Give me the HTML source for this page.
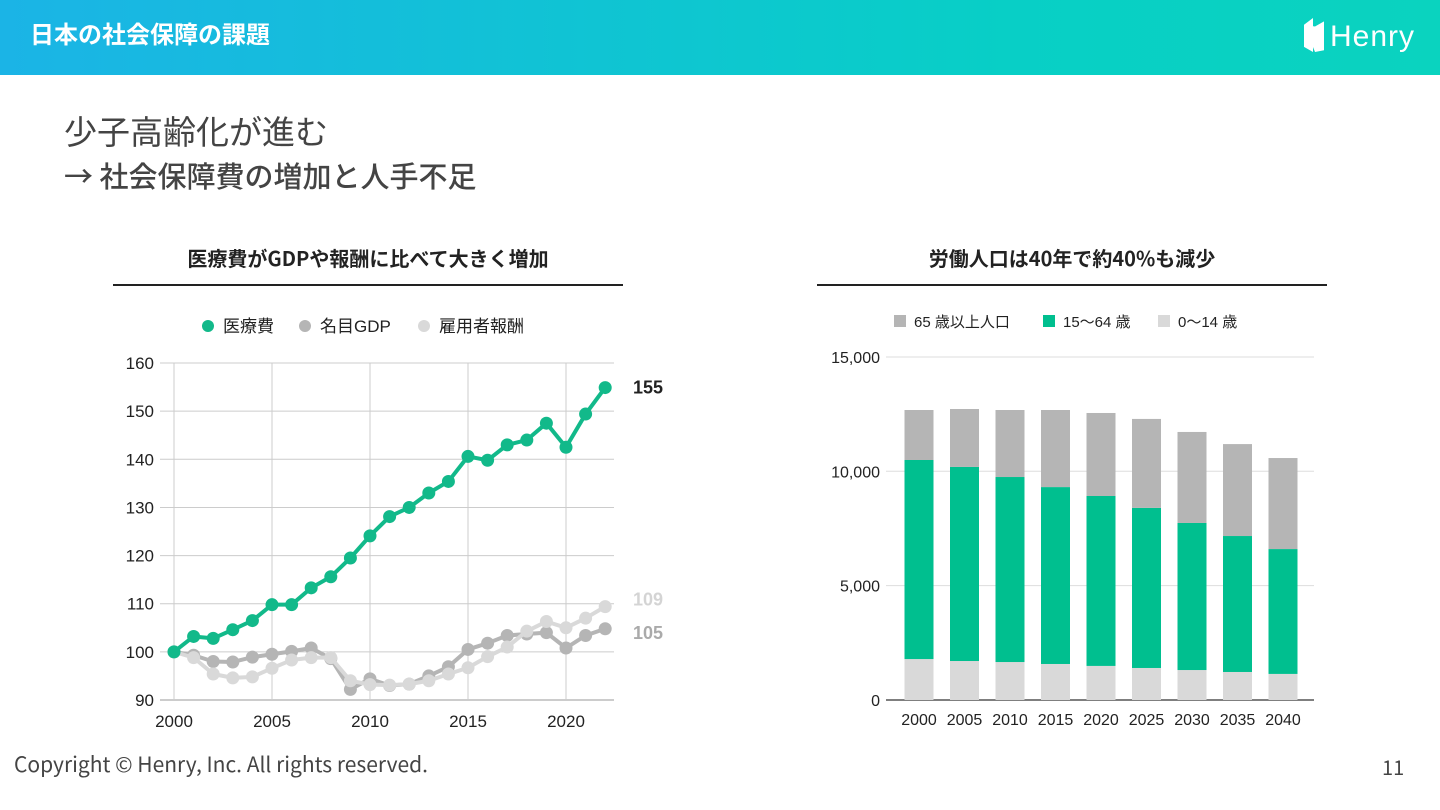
<!DOCTYPE html>
<html><head><meta charset="utf-8">
<style>
body{margin:0;width:1440px;height:810px;background:#fff;position:relative;overflow:hidden;font-family:"Liberation Sans","Noto Sans CJK JP",sans-serif;}
.hdr{position:absolute;left:0;top:0;width:1440px;height:75px;background:linear-gradient(90deg,#1bb4e6,#08cfc6 70%,#0ad3bf);}
.t{position:absolute;white-space:nowrap;}
</style></head><body>
<div class="hdr"></div>
<div class="t" style="left:30px;top:15px;color:#fff;font-size:24px;font-weight:bold;font-family:'Noto Sans CJK JP',sans-serif;">日本の社会保障の課題</div>
<div class="t" style="left:1304px;top:18px;color:#fff;font-size:30px;letter-spacing:1px;"><span style="display:inline-block;width:20px;height:34px;background:#fff;vertical-align:-6px;margin-right:6px;clip-path:polygon(0 20%,45% 0,45% 100%,0 85%,0 20%,55% 25%,100% 10%,100% 95%,55% 100%);"></span>Henry</div>
<div class="t" style="left:64px;top:106px;color:#444;font-size:33px;font-family:'Noto Sans CJK JP',sans-serif;">少子高齢化が進む</div>
<div class="t" style="left:64px;top:154px;color:#444;font-size:29px;font-family:'Noto Sans CJK JP',sans-serif;font-weight:500;">→ 社会保障費の増加と人手不足</div>
<div class="t" style="left:113px;width:510px;text-align:center;top:243px;font-size:20px;font-weight:bold;color:#222;font-family:'Noto Sans CJK JP',sans-serif;">医療費がGDPや報酬に比べて大きく増加</div>
<div style="position:absolute;left:113px;top:284px;width:510px;height:2px;background:#222;"></div>
<div class="t" style="left:817px;width:510px;text-align:center;top:243px;font-size:20px;font-weight:bold;color:#222;font-family:'Noto Sans CJK JP',sans-serif;">労働人口は40年で約40%も減少</div>
<div style="position:absolute;left:817px;top:284px;width:510px;height:2px;background:#222;"></div>
<div class="t" style="left:14px;top:749px;font-size:21px;color:#444;font-family:'Noto Sans CJK JP',sans-serif;">Copyright © Henry, Inc. All rights reserved.</div>
<div class="t" style="left:1382px;top:752px;font-size:20px;color:#444;font-family:'Noto Sans CJK JP',sans-serif;">11</div>
<svg id="c1" width="1440" height="810" style="position:absolute;left:0;top:0"></svg>
<script>
const years=[2000,2001,2002,2003,2004,2005,2006,2007,2008,2009,2010,2011,2012,2013,2014,2015,2016,2017,2018,2019,2020,2021,2022];
const medical=[100,103.2,102.8,104.6,106.5,109.8,109.8,113.3,115.6,119.5,124.1,128.1,130.0,133.0,135.4,140.6,139.8,143.0,144.0,147.5,142.5,149.4,154.9];
const gdp=[100,99.3,98.0,97.9,98.9,99.5,100.1,100.8,98.6,92.2,94.4,93.0,93.3,95.0,96.9,100.5,101.8,103.4,103.7,104.0,100.8,103.4,104.8];
const wages=[100,98.8,95.4,94.6,94.8,96.6,98.3,98.8,98.8,94.0,93.2,93.1,93.3,94.0,95.4,96.7,99.0,101.0,104.3,106.3,105.0,107.0,109.4];
const yTicks=[90,100,110,120,130,140,150,160];
const xTicks=[2000,2005,2010,2015,2020];
const barCats=['2000','2005','2010','2015','2020','2025','2030','2035','2040'];
const young=[1790,1705,1660,1575,1490,1400,1310,1225,1140];
const working=[8704,8485,8090,7735,7430,7000,6430,5945,5460];
const elderly=[2186,2534,2930,3370,3630,3890,3980,4020,3980];
const barTicks=[0,5000,10000,15000];
const NS='http://www.w3.org/2000/svg';
const svg=document.getElementById('c1');
function el(t,a,txt){const e=document.createElementNS(NS,t);for(const k in a)e.setAttribute(k,a[k]);if(txt!=null)e.textContent=txt;svg.appendChild(e);return e;}
const X=y=>174+(y-2000)*19.6, Y=v=>700-(v-90)*4.814;
for(const t of yTicks){const g=el('line',{x1:160,x2:614,y1:Y(t),y2:Y(t),stroke:t==90?'#999':'#ccc','stroke-width':1});

const l=el('text',{x:154,y:Y(t)+6,'text-anchor':'end','font-size':17,fill:'#222'},t);
}
for(const t of xTicks){const g=el('line',{x1:X(t),x2:X(t),y1:Y(160),y2:Y(90),stroke:'#ccc'});

const l=el('text',{x:X(t),y:727,'text-anchor':'middle','font-size':17,fill:'#222'},t);
}
function series(vals,col,name){const p=el('polyline',{points:vals.map((v,i)=>X(years[i])+','+Y(v)).join(' '),fill:'none',stroke:col,'stroke-width':4,'stroke-linejoin':'round'});

vals.forEach((v,i)=>{const c=el('circle',{cx:X(years[i]),cy:Y(v),r:6.5,fill:col});
});}
series(gdp,'#b5b5b5','gdp');series(wages,'#d9d9d9','wages');series(medical,'#12b98a','medical');
const e1=el('text',{x:633,y:Y(medical[22])+6,'font-size':18,'font-weight':'bold',fill:'#222'},Math.round(medical[22]));

const e2=el('text',{x:633,y:Y(wages[22])-1,'font-size':18,'font-weight':'bold',fill:'#d4d4d4'},Math.floor(wages[22]));

const e3=el('text',{x:633,y:Y(gdp[22])+10,'font-size':18,'font-weight':'bold',fill:'#aaa'},Math.round(gdp[22]));

[['医療費','#12b98a',208],['名目GDP','#b5b5b5',305],['雇用者報酬','#d9d9d9',424]].forEach(([n,c,x])=>{
const d=el('circle',{cx:x,cy:326,r:6,fill:c});
const t=el('text',{x:x+15,y:332,'font-size':17,fill:'#222'},n);});
const BY=v=>700-v*0.02287, BX=i=>919+i*45.5;
for(const t of barTicks){const g=el('line',{x1:886,x2:1314,y1:BY(t),y2:BY(t),stroke:t==0?'#333':'#ddd','stroke-width':t==0?1.3:1});

const l=el('text',{x:880,y:BY(t)+6,'text-anchor':'end','font-size':16,fill:'#222'},t.toLocaleString('en-US'));
}
barCats.forEach((c,i)=>{let base=0;
[[young[i],'#d9d9d9','young'],[working[i],'#00bf8f','working'],[elderly[i],'#b5b5b5','elderly']].forEach(([v,col,n])=>{
const r=el('rect',{x:BX(i)-14.5,y:BY(base+v),width:29,height:BY(base)-BY(base+v),fill:col});
base+=v;});
const l=el('text',{x:BX(i),y:725,'text-anchor':'middle','font-size':16,fill:'#222'},c);
});
[['65 歳以上人口','#b5b5b5',894],['15〜64 歳','#00bf8f',1043],['0〜14 歳','#d9d9d9',1158]].forEach(([n,c,x])=>{
const d=el('rect',{x:x,y:315,width:12,height:12,fill:c});
const t=el('text',{x:x+20,y:327,'font-size':15,fill:'#222'},n);});
</script>
</body></html>
